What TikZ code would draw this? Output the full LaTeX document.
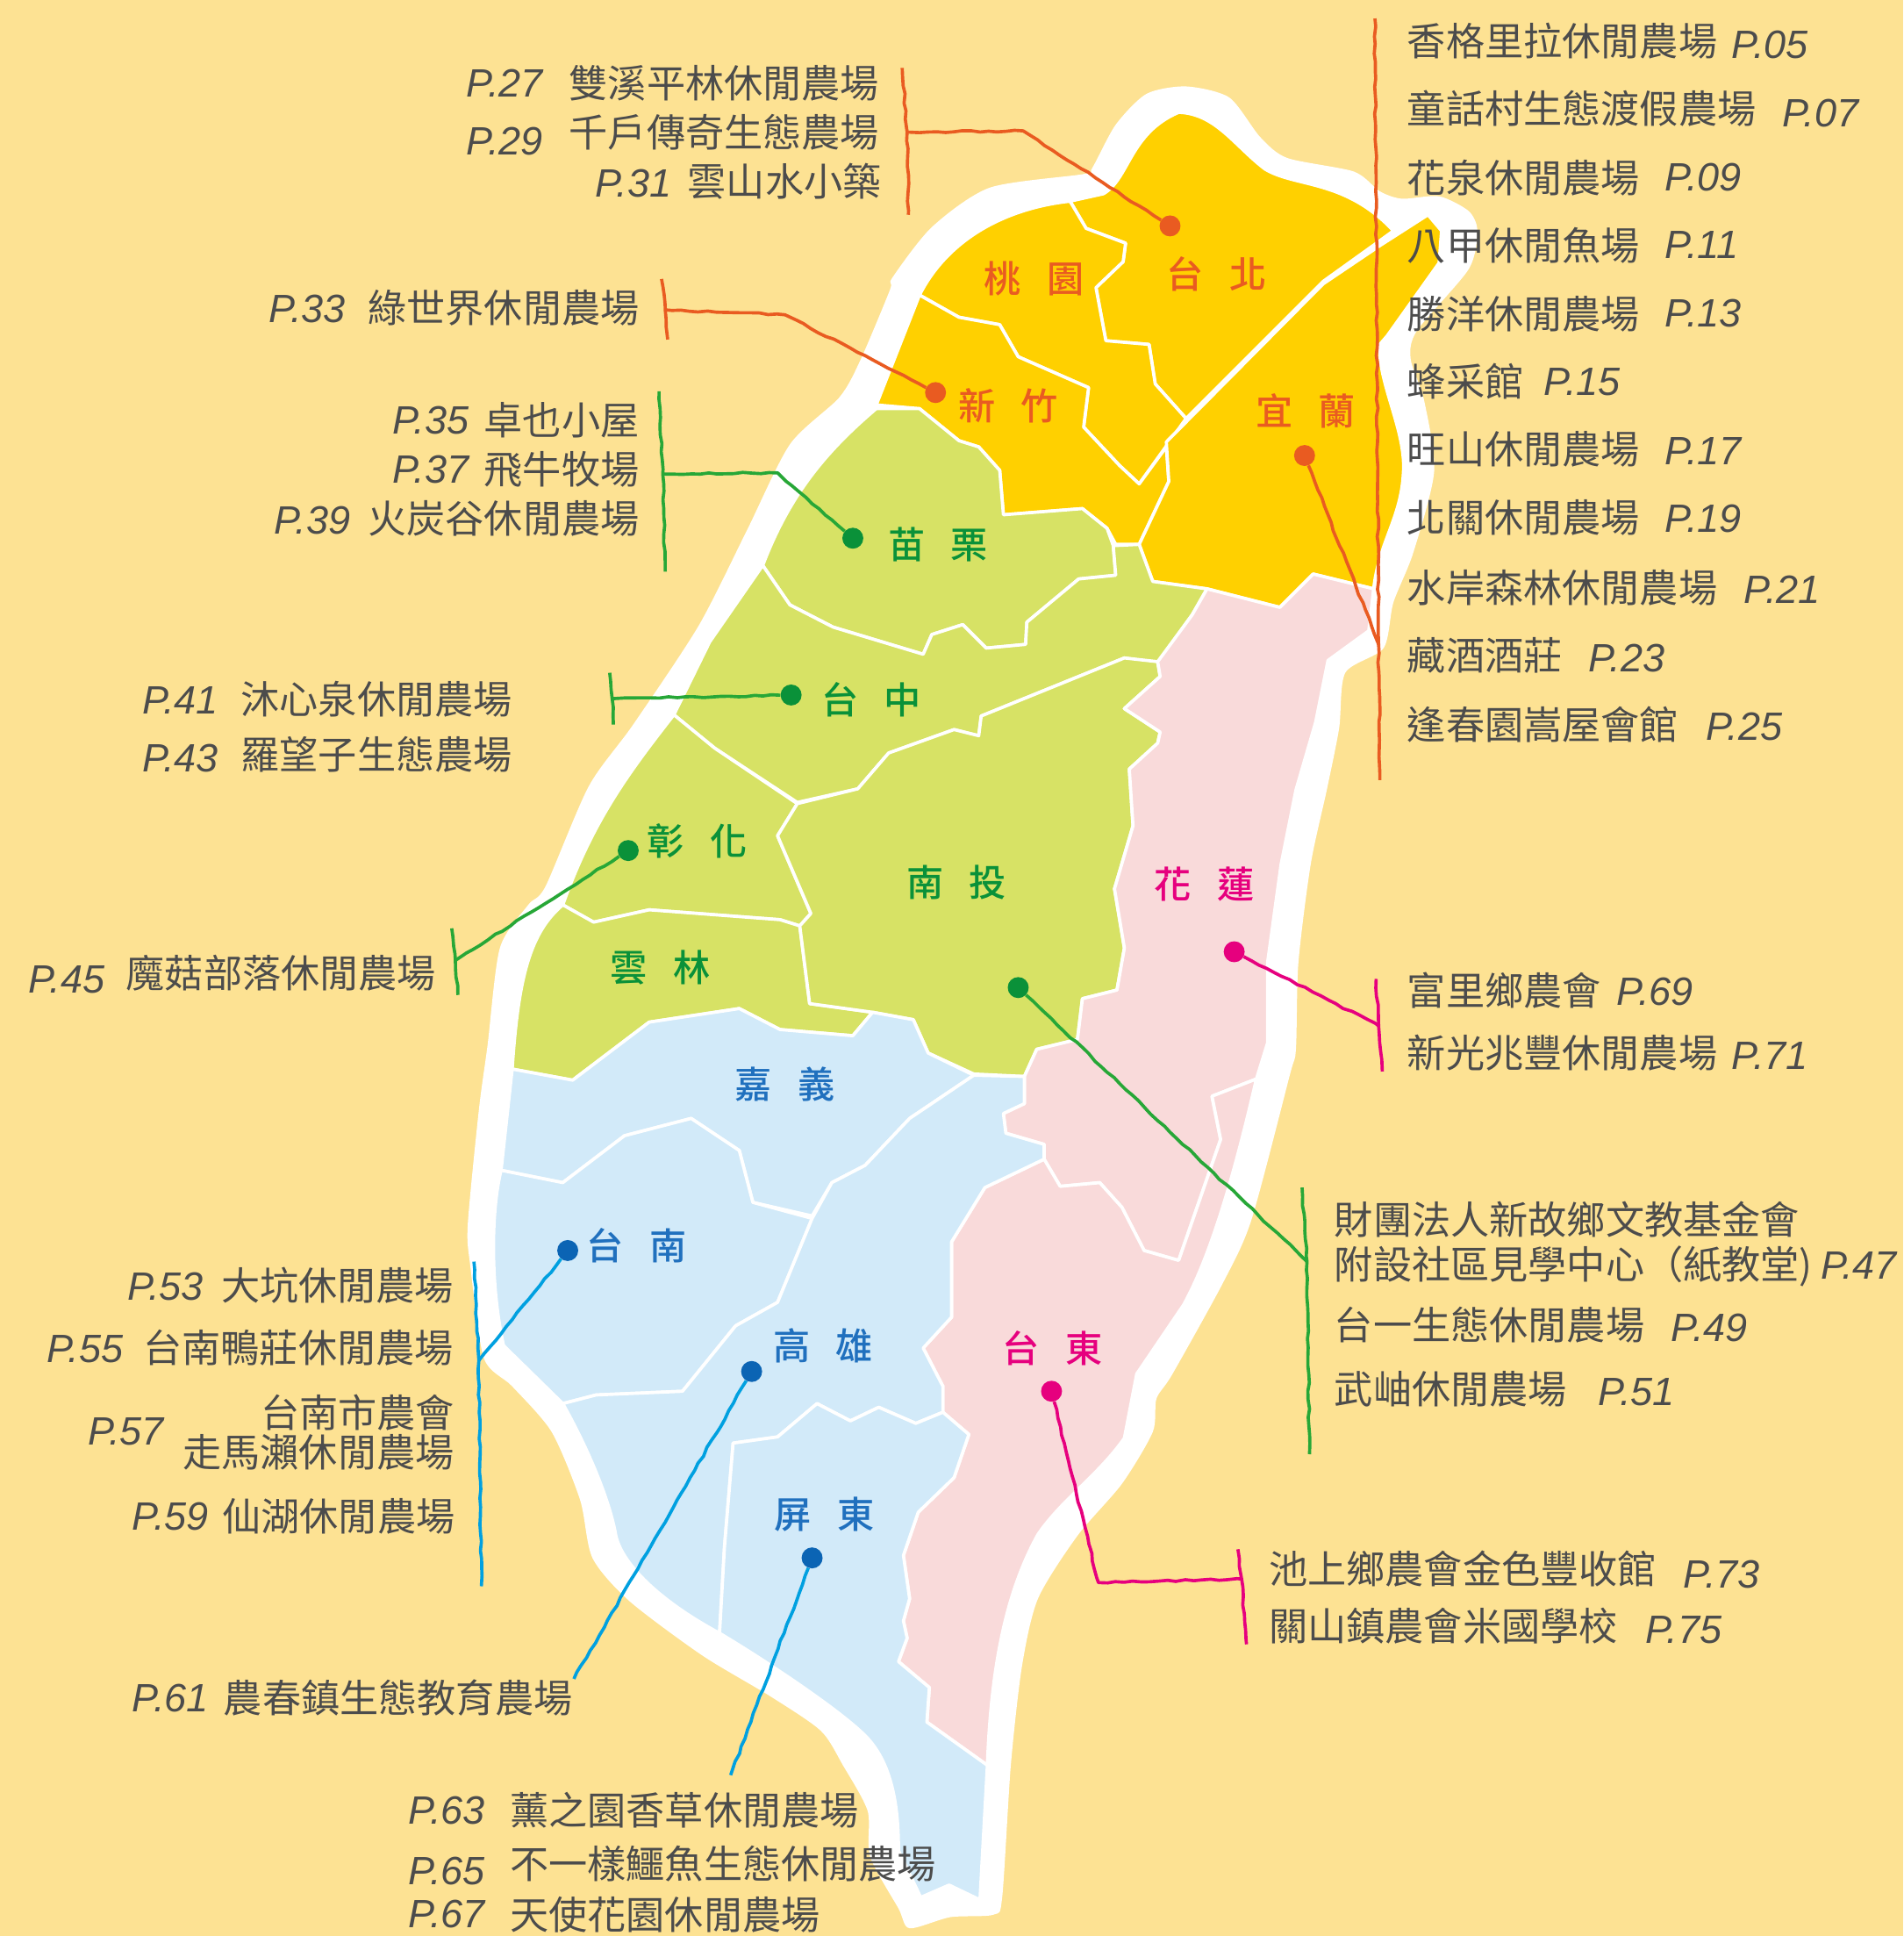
\documentclass[tikz,border=0pt]{standalone}
\usepackage{fontspec}
\usetikzlibrary{decorations.pathmorphing}
\setmainfont{Liberation Sans}
\newfontfamily\cjk{Noto Sans CJK TC}
\newfontfamily\cjkm{Noto Sans CJK TC Medium}
\definecolor{bgc}{HTML}{FDE293}
\definecolor{yel}{HTML}{FFD000}
\definecolor{grn}{HTML}{D7E265}
\definecolor{pnk}{HTML}{F9DADA}
\definecolor{blu}{HTML}{D2EAF9}
\definecolor{org}{HTML}{E95B21}
\definecolor{dgr}{HTML}{0A9139}
\definecolor{lgr}{HTML}{27A737}
\definecolor{mag}{HTML}{E6007E}
\definecolor{dbl}{HTML}{0B64B4}
\definecolor{lab}{HTML}{2070BE}
\definecolor{lbl}{HTML}{00A0E0}
\definecolor{txt}{HTML}{4C4C4C}
\tikzset{
  region/.style={draw=white,line width=2.6pt,line join=round},
  rough/.style={line width=2.6pt,decorate,decoration={random steps,segment length=7pt,amplitude=.7pt},line join=round},
  dotn/.style={circle,inner sep=0pt,minimum size=17pt},
  farmt/.style={anchor=base west,inner sep=0pt,text=txt,font=\fontsize{31.4}{36}\selectfont\cjk},
  farmp/.style={anchor=base west,inner sep=0pt,text=txt,font=\fontsize{32}{36}\selectfont\itshape},
  area/.style={inner sep=0pt,font=\fontsize{30}{36}\selectfont\cjkm},
}
\newcommand\ft[4]{\node[farmt] (#1) at (#2,#3+12) {#4};}
\newcommand\fp[4]{\node[farmp] (#1) at (#2,#3+11.5) {P.#4};}
\newcommand\ar[5]{\node[area,text=#5] (#1) at (#2,#3) {#4};}
\def\taipei{(867,163)--(894,157) .. controls (915,145) and (915,108) .. (955,91) .. controls (985,92) and (1000,118) .. (1025,137) .. controls (1050,152) and (1090,145) .. (1129,187)--(1118,195)--(1072,228)--(961,339)--(936,311)--(931,279)--(896,276)--(888,233)--(910,212)--(912,197)--(880,185)--cycle}
\def\taoyuan{(867,163) .. controls (820,168) and (770,190) .. (745,239)--(777,257)--(810,263)--(825,289)--(882,314)--(878,346)--(907,377)--(923,392)--(961,339)--(936,311)--(931,279)--(896,276)--(888,233)--(910,212)--(912,197)--(880,185)--cycle}
\def\hsinchu{(745,239)--(710,328)--(745,331)--(777,357)--(793,362)--(810,381)--(813,417)--(877,412)--(897,428)--(904,441)--(923,441)--(947,390)--(945,362)--(923,392)--(907,377)--(878,346)--(882,314)--(825,289)--(810,263)--(777,257)--cycle}
\def\yilan{(945,358)--(1072,230)--(1118,199)--(1157,174)--(1168,187)--(1166,213)--(1124,272)--(1118,279) .. controls (1116,310) and (1140,350) .. (1137,384) .. controls (1135,420) and (1117,440) .. (1113,477)--(1064,465)--(1037,492)--(978,477)--(934,471)--(923,441)--(947,390)--cycle}
\def\miaoli{(745,331)--(710,331) .. controls (670,365) and (640,400) .. (618,458)--(640,490)--(675,508)--(748,530)--(755,514)--(780,506)--(799,525)--(831,522)--(832,504)--(874,469)--(904,466)--(902,442)--(897,428)--(877,412)--(813,417)--(810,381)--(793,362)--(777,357)--cycle}
\def\taichung{(618,458)--(575,520)--(546,579)--(579,606)--(646,650)--(695,639)--(720,610)--(773,591)--(793,596)--(795,580)--(911,533)--(938,537)--(966,498)--(978,477)--(934,471)--(923,441)--(902,442)--(904,466)--(874,469)--(832,504)--(831,522)--(799,525)--(780,506)--(755,514)--(748,530)--(675,508)--(640,490)--cycle}
\def\changhua{(546,579) .. controls (510,625) and (480,665) .. (456,733)--(481,747)--(526,737)--(632,745)--(648,750)--(657,740)--(630,677)--(646,651)--(579,606)--cycle}
\def\yunlin{(456,733) .. controls (430,755) and (420,790) .. (415,866)--(464,875)--(526,828)--(599,817)--(632,834)--(691,839)--(707,820)--(656,813)--(648,750)--(632,745)--(526,737)--(481,747)--cycle}
\def\nantou{(646,651)--(695,639)--(720,610)--(773,591)--(793,596)--(795,580)--(911,533)--(938,536)--(940,548)--(911,574)--(940,593)--(938,602)--(915,623)--(918,669)--(903,720)--(911,768)--(905,802)--(877,809)--(873,842)--(840,850)--(830,872)--(789,870)--(752,853)--(740,826)--(707,820)--(656,813)--(648,750)--(657,740)--(630,677)--cycle}
\def\hualien{(978,477)--(1037,492)--(1064,465)--(1113,477)--(1109,511)--(1076,535)--(1066,585)--(1050,640)--(1038,700)--(1027,780)--(1027,845)--(1018,874)--(982,888)--(989,923)--(955,1021)--(927,1013)--(909,978)--(891,958)--(859,961)--(846,939)--(846,927)--(815,918)--(813,902)--(830,894)--(830,872)--(840,850)--(873,842)--(877,809)--(905,802)--(911,768)--(903,720)--(918,669)--(915,623)--(938,602)--(940,593)--(911,574)--(940,548)--(938,536)--(966,498)--cycle}
\def\taitung{(846,939)--(798,962)--(771,1006)--(771,1067)--(748,1092)--(764,1123)--(764,1144)--(785,1162)--(773,1197)--(744,1225)--(732,1260)--(737,1295)--(732,1313)--(735,1327)--(728,1346)--(753,1367)--(751,1395)--(800,1430) .. controls (803,1350) and (815,1290) .. (841,1243) .. controls (860,1215) and (890,1195) .. (911,1165)--(921,1113)--(959,1057) .. controls (985,1010) and (1005,930) .. (1018,874)--(982,888)--(989,923)--(955,1021)--(927,1013)--(909,978)--(891,958)--(859,961)--cycle}
\def\chiayi{(415,866)--(406,948)--(456,958)--(506,920)--(560,906)--(599,932)--(610,974)--(658,985)--(674,958)--(701,944)--(737,906)--(789,871)--(752,853)--(740,826)--(707,820)--(691,839)--(632,834)--(599,817)--(526,828)--(464,875)--cycle}
\def\tainan{(406,948) .. controls (398,980) and (397,1040) .. (408,1090)--(456,1137)--(483,1130)--(553,1127)--(596,1074)--(630,1055)--(658,987)--(610,974)--(599,932)--(560,906)--(506,920)--(456,958)--cycle}
\def\kaohsiung{(456,1137) .. controls (480,1180) and (495,1220) .. (499,1244) .. controls (505,1270) and (540,1300) .. (583,1323)--(587,1253)--(594,1169)--(630,1164)--(662,1137)--(689,1151)--(712,1140)--(742,1153)--(764,1144)--(764,1123)--(748,1092)--(771,1067)--(771,1006)--(798,962)--(846,939)--(846,927)--(815,918)--(813,902)--(830,894)--(830,872)--(789,871)--(737,906)--(701,944)--(674,958)--(658,987)--(630,1055)--(596,1074)--(553,1127)--(483,1130)--cycle}
\def\pingtung{(583,1323) .. controls (620,1345) and (680,1385) .. (701,1406) .. controls (725,1430) and (728,1470) .. (728,1499)--(746,1537)--(769,1527)--(794,1539)--(800,1430)--(751,1395)--(753,1367)--(728,1346)--(735,1327)--(732,1313)--(737,1295)--(732,1260)--(744,1225)--(773,1197)--(785,1162)--(764,1144)--(742,1153)--(712,1140)--(689,1151)--(662,1137)--(630,1164)--(594,1169)--(587,1253)--cycle}
\begin{document}
\begin{tikzpicture}[x=1pt,y=-1pt]
\pgfmathsetseed{7}
\useasboundingbox (0,0) rectangle (1542,1568.3);
\fill[bgc] (0,0) rectangle (1542,1568.3);
% white halo
\fill[white] plot[smooth cycle,tension=.45] coordinates {(961,70)(996,79)(1021,111)(1043,128)(1097,139)(1118,155)(1136,161)(1166,159)(1190,171)(1197,187)(1190,218)(1148,268)(1143,291)(1154,325)(1162,382)(1145,448)(1129,488)(1121,525)(1090,545)(1085,590)(1075,640)(1062,700)(1052,780)(1050,850)(1045,871)(1014,988)(991,1039)(950,1113)(937,1133)(934,1160)(909,1202)(873,1244)(841,1295)(828,1350)(819,1430)(812,1537)(805,1551)(770,1553)(737,1562)(728,1546)(705,1504)(703,1467)(683,1430)(665,1402)(624,1374)(569,1341)(510,1297)(480,1262)(470,1215)(447,1160)(415,1123)(392,1100)(381,1025)(379,992)(388,899)(395,847)(405,768)(428,733)(442,718)(477,637)(513,587)(566,507)(605,430)(640,360)(680,322)(697,292)(721,235)(723,225)(755,184)(802,152)(878,141)(885,136)(904,101)(929,76)};
% regions
\path[region,fill=yel] \taipei; \path[region,fill=yel] \taoyuan; \path[region,fill=yel] \hsinchu; \path[region,fill=yel] \yilan;
\path[region,fill=grn] \miaoli; \path[region,fill=grn] \taichung; \path[region,fill=grn] \changhua; \path[region,fill=grn] \yunlin; \path[region,fill=grn] \nantou;
\path[region,fill=pnk] \hualien; \path[region,fill=pnk] \taitung;
\path[region,fill=blu] \chiayi; \path[region,fill=blu] \tainan; \path[region,fill=blu] \kaohsiung; \path[region,fill=blu] \pingtung;
% dots
\node[dotn,fill=org] (dTaipei) at (948,183) {};
\node[dotn,fill=org] (dHsinchu) at (758,318) {};
\node[dotn,fill=org] (dYilan) at (1057,369) {};
\node[dotn,fill=dgr] (dMiaoli) at (691,436) {};
\node[dotn,fill=dgr] (dTaichung) at (641,563) {};
\node[dotn,fill=dgr] (dChanghua) at (509,689) {};
\node[dotn,fill=dgr] (dNantou) at (825,800) {};
\node[dotn,fill=mag] (dHualien) at (1000,771) {};
\node[dotn,fill=mag] (dTaitung) at (852,1127) {};
\node[dotn,fill=dbl] (dTainan) at (460,1013) {};
\node[dotn,fill=dbl] (dKaohsiung) at (609,1111) {};
\node[dotn,fill=dbl] (dPingtung) at (658,1262) {};
% bracket coordinates
\coordinate (bTaipei) at (735,107);
\coordinate (bHsinchu) at (539,251);
\coordinate (bYilan) at (1117,522);
\coordinate (bMiaoli) at (537,384);
\coordinate (bTaichung) at (496,566);
\coordinate (bChanghua) at (369,778);
\coordinate (bNantou) at (1059,1022);
\coordinate (bHualien) at (1117,831);
\coordinate (bTaitung) at (1006,1279);
\coordinate (bTainan) at (388,1102);
\coordinate (eKaohsiung) at (465,1360);
\coordinate (ePingtung) at (592,1438);
\coordinate (t1) at (731,55); \coordinate (t2) at (736,174);
\coordinate (h1) at (536,226); \coordinate (h2) at (541,275);
\coordinate (y1) at (1114,15); \coordinate (y2) at (1118,632);
\coordinate (m1) at (534,317); \coordinate (m2) at (539,463);
\coordinate (c1) at (494,545); \coordinate (c2) at (497,587);
\coordinate (g1) at (366,752); \coordinate (g2) at (371,806);
\coordinate (n1) at (1055,962); \coordinate (n2) at (1061,1178);
\coordinate (l1) at (1115,793); \coordinate (l2) at (1120,868);
\coordinate (u1) at (1003,1255); \coordinate (u2) at (1010,1332);
\coordinate (a1) at (384,1022); \coordinate (a2) at (390,1285);
% connectors
\draw[rough,org] (dTaipei) -- (829,106) -- (bTaipei);
\draw[rough,org] (t1) -- (bTaipei) -- (t2);
\draw[rough,org] (dHsinchu) -- (636,255) -- (bHsinchu);
\draw[rough,org] (h1) -- (bHsinchu) -- (h2);
\draw[rough,org] (dYilan) -- (bYilan);
\draw[rough,org] (y1) -- (bYilan) -- (y2);
\draw[rough,lgr] (dMiaoli) -- (630,383) -- (bMiaoli);
\draw[rough,lgr] (m1) -- (bMiaoli) -- (m2);
\draw[rough,lgr] (dTaichung) -- (bTaichung);
\draw[rough,lgr] (c1) -- (bTaichung) -- (c2);
\draw[rough,lgr] (dChanghua) -- (bChanghua);
\draw[rough,lgr] (g1) -- (bChanghua) -- (g2);
\draw[rough,lgr] (dNantou) -- (bNantou);
\draw[rough,lgr] (n1) -- (bNantou) -- (n2);
\draw[rough,mag] (dHualien) -- (bHualien);
\draw[rough,mag] (l1) -- (bHualien) -- (l2);
\draw[rough,mag] (dTaitung) -- (890,1282) -- (bTaitung);
\draw[rough,mag] (u1) -- (bTaitung) -- (u2);
\draw[rough,lbl] (dTainan) -- (bTainan);
\draw[rough,lbl] (a1) -- (bTainan) -- (a2);
\draw[rough,lbl] (dKaohsiung) -- (eKaohsiung);
\draw[rough,lbl] (dPingtung) -- (ePingtung);
% area labels
\ar{aTaipei}{986}{222}{台\hspace{21pt}北}{org}
\ar{aTaoyuan}{838}{226}{桃\hspace{21pt}園}{org}
\ar{aHsinchu}{817}{329}{新\hspace{21pt}竹}{org}
\ar{aYilan}{1058}{333}{宜\hspace{21pt}蘭}{org}
\ar{aMiaoli}{760}{441}{苗\hspace{21pt}栗}{dgr}
\ar{aTaichung}{706}{567}{台\hspace{21pt}中}{dgr}
\ar{aChanghua}{565}{681}{彰\hspace{21pt}化}{dgr}
\ar{aNantou}{775}{715}{南\hspace{21pt}投}{dgr}
\ar{aYunlin}{535}{784}{雲\hspace{21pt}林}{dgr}
\ar{aHualien}{976}{716}{花\hspace{21pt}蓮}{mag}
\ar{aTaitung}{853}{1092}{台\hspace{21pt}東}{mag}
\ar{aChiayi}{636}{878}{嘉\hspace{21pt}義}{lab}
\ar{aTainan}{516}{1009}{台\hspace{21pt}南}{lab}
\ar{aKaohsiung}{667}{1090}{高\hspace{21pt}雄}{lab}
\ar{aPingtung}{668}{1227}{屏\hspace{21pt}東}{lab}
% right list
\ft{r1}{1140}{33}{香格里拉休閒農場}\fp{p05}{1403}{36}{05}
\ft{r2}{1140}{88}{童話村生態渡假農場}\fp{p07}{1444}{91}{07}
\ft{r3}{1140}{144}{花泉休閒農場}\fp{p09}{1349}{143}{09}
\ft{r4}{1140}{199}{八甲休閒魚場}\fp{p11}{1349}{198}{11}
\ft{r5}{1140}{254}{勝洋休閒農場}\fp{p13}{1349}{253}{13}
\ft{r6}{1140}{309}{蜂采館}\fp{p15}{1251}{309}{15}
\ft{r7}{1140}{364}{旺山休閒農場}\fp{p17}{1349}{365}{17}
\ft{r8}{1140}{419}{北關休閒農場}\fp{p19}{1349}{420}{19}
\ft{r9}{1140}{476}{水岸森林休閒農場}\fp{p21}{1413}{477}{21}
\ft{r10}{1140}{531}{藏酒酒莊}\fp{p23}{1287}{533}{23}
\ft{r11}{1140}{587}{逢春園嵩屋會館}\fp{p25}{1382}{588}{25}
% top left
\fp{p27}{378}{67}{27}\ft{l1}{461}{67}{雙溪平林休閒農場}
\fp{p29}{378}{114}{29}\ft{l2}{461}{107}{千戶傳奇生態農場}
\fp{p31}{482}{148}{31}\ft{l3}{557}{147}{雲山水小築}
\fp{p33}{218}{250}{33}\ft{l4}{298}{249}{綠世界休閒農場}
\fp{p35}{318}{340}{35}\ft{l5}{392}{340}{卓也小屋}
\fp{p37}{318}{380}{37}\ft{l6}{392}{380}{飛牛牧場}
\fp{p39}{222}{421}{39}\ft{l7}{298}{420}{火炭谷休閒農場}
\fp{p41}{115}{567}{41}\ft{l8}{195}{566}{沐心泉休閒農場}
\fp{p43}{115}{614}{43}\ft{l9}{195}{611}{羅望子生態農場}
\fp{p45}{23}{793}{45}\ft{l10}{102}{788}{魔菇部落休閒農場}
\fp{p53}{103}{1042}{53}\ft{l11}{179}{1041}{大坑休閒農場}
\fp{p55}{38}{1092}{55}\ft{l12}{116}{1092}{台南鴨莊休閒農場}
\fp{p57}{71}{1159}{57}\ft{l13}{211}{1144}{台南市農會}\ft{l14}{148}{1176}{走馬瀨休閒農場}
\fp{p59}{107}{1228}{59}\ft{l15}{180}{1228}{仙湖休閒農場}
\fp{p61}{107}{1375}{61}\ft{l16}{181}{1375}{農春鎮生態教育農場}
\fp{p63}{331}{1466}{63}\ft{l17}{413}{1466}{薰之園香草休閒農場}
\fp{p65}{331}{1515}{65}\ft{l18}{413}{1510}{不一樣鱷魚生態休閒農場}
\fp{p67}{331}{1550}{67}\ft{l19}{413}{1551}{天使花園休閒農場}
% lower right
\ft{q1}{1140}{802}{富里鄉農會}\fp{p69}{1310}{803}{69}
\ft{q2}{1140}{853}{新光兆豐休閒農場}\fp{p71}{1403}{855}{71}
\ft{q3}{1081}{988}{財團法人新故鄉文教基金會}
\ft{q4}{1081}{1024}{附設社區見學中心（紙教堂)}\fp{p47}{1475}{1025}{47}
\ft{q5}{1081}{1073}{台一生態休閒農場}\fp{p49}{1354}{1075}{49}
\ft{q6}{1081}{1125}{武岫休閒農場}\fp{p51}{1295}{1127}{51}
\ft{q7}{1028}{1271}{池上鄉農會金色豐收館}\fp{p73}{1364}{1275}{73}
\ft{q8}{1028}{1317}{關山鎮農會米國學校}\fp{p75}{1333}{1320}{75}
\end{tikzpicture}
\end{document}
